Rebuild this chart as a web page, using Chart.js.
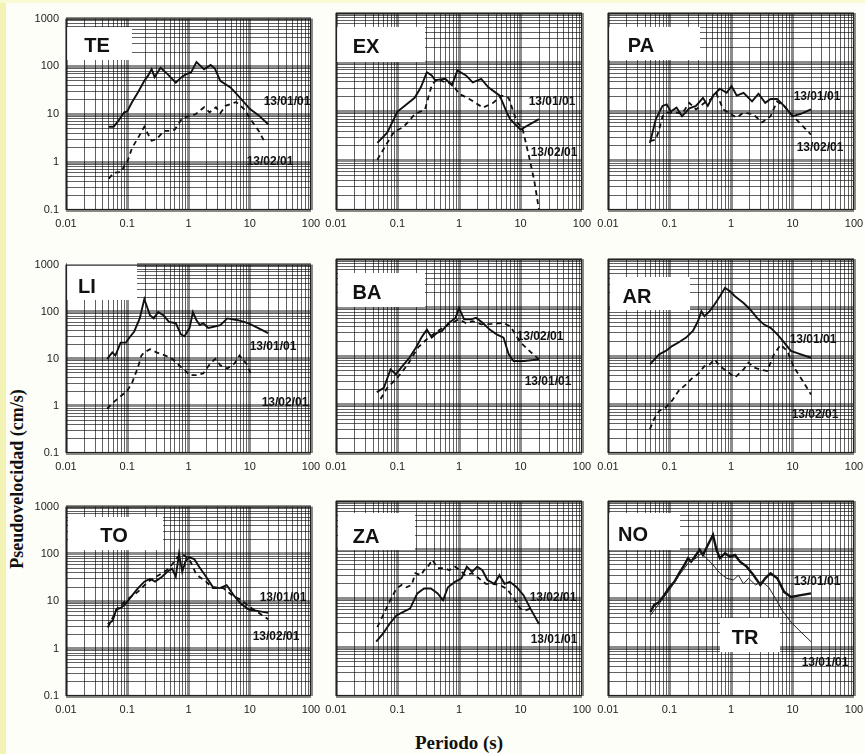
<!DOCTYPE html>
<html>
<head>
<meta charset="utf-8">
<script src="https://cdn.jsdelivr.net/npm/chart.js@4.4.0/dist/chart.umd.min.js"></script>
<style>
  html, body { margin: 0; padding: 0; }
  body { width: 865px; height: 754px; position: relative; overflow: hidden; background: #fefef9; font-family: "Liberation Sans", Arial, sans-serif; }
  canvas { position: absolute; }
  .edge-l { position: absolute; left: 0; top: 0; width: 6px; height: 754px; background: #f3f3b6; }
  .edge-t { position: absolute; left: 0; top: 0; width: 865px; height: 3px; background: #fafad6; }
  .ytitle { position: absolute; left: 17px; top: 479px; transform: translate(-50%, -50%) rotate(-90deg); font: bold 18px "Liberation Serif", "Times New Roman", serif; white-space: nowrap; color: #111; }
  .xtitle { position: absolute; left: 459px; top: 743px; transform: translate(-50%, -50%); font: bold 19px "Liberation Serif", "Times New Roman", serif; white-space: nowrap; color: #111; }
</style>
</head>
<body>
<div class="edge-l"></div>
<div class="edge-t"></div>
<div class="ytitle">Pseudovelocidad (cm/s)</div>
<div class="xtitle">Periodo (s)</div>
<script>
// ---- Pseudo-velocity spectra (period in s, PSV in cm/s) ----
// 13/01/01 event = Jan, 13/02/01 event = Feb

const teJanT = [0.05, 0.06, 0.07, 0.089, 0.1, 0.12, 0.15, 0.19, 0.22, 0.25, 0.28, 0.35, 0.45, 0.62, 0.75, 0.9, 1.1, 1.35, 1.8, 2.3, 2.7, 3.3, 4.9, 7.2, 10, 14, 20];
const teJanV = [5.5, 5.5, 7, 11, 11.5, 18, 29, 50, 65, 88, 60, 94, 70, 46, 58, 68, 75, 123, 87, 107, 90, 50, 36, 21, 13, 9.5, 6.2];
const teFebT = [0.05, 0.06, 0.08, 0.09, 0.1, 0.12, 0.15, 0.19, 0.22, 0.25, 0.3, 0.4, 0.5, 0.6, 0.8, 1, 1.3, 1.8, 2.2, 2.8, 3.3, 4, 6, 8, 11, 14, 18];
const teFebV = [0.45, 0.6, 0.62, 0.85, 1.0, 2.0, 3.2, 5.5, 3.8, 2.8, 3.0, 4.5, 4.5, 4.8, 8.5, 9, 10, 14, 11, 14, 10.5, 15, 18, 13, 7, 4.5, 2.5];

const exJanT = [0.047, 0.068, 0.1, 0.13, 0.19, 0.24, 0.3, 0.36, 0.41, 0.5, 0.6, 0.77, 0.94, 1.3, 1.67, 2.3, 3, 4.6, 6, 6.8, 10, 20];
const exJanV = [2.3, 3.7, 10, 13, 19, 31, 63, 54, 43, 45, 46, 34, 68, 54, 39, 46, 31, 21, 9.5, 7, 4.3, 7];
const exFebT = [0.047, 0.068, 0.088, 0.12, 0.147, 0.19, 0.28, 0.36, 0.44, 0.6, 0.77, 1, 1.47, 2.45, 3.6, 4.9, 6.4, 8.8, 10.7, 13.8, 16.7, 20];
const exFebV = [1.05, 2.3, 3.9, 4.7, 6, 8.8, 11, 34, 46, 39, 37, 23, 18, 12, 15, 21, 19, 6, 4.7, 1.2, 0.4, 0.1];

const paJanT = [0.048, 0.06, 0.077, 0.09, 0.105, 0.13, 0.16, 0.21, 0.27, 0.35, 0.42, 0.51, 0.66, 0.85, 1.02, 1.24, 1.6, 2.2, 2.8, 3.6, 4.4, 5.6, 7.3, 10, 13.7, 20];
const paJanV = [2.3, 7, 13, 14, 10, 12, 8, 11.6, 13, 19, 13, 21, 29, 24, 33, 21, 24, 16, 23, 15, 18, 18, 13, 8, 9, 11];
const paFebT = [0.048, 0.06, 0.068, 0.077, 0.093, 0.13, 0.16, 0.21, 0.27, 0.37, 0.48, 0.58, 0.75, 1, 1.24, 1.6, 2.3, 3.2, 4.4, 5.6, 7.3, 9.4, 13.7, 20];
const paFebV = [2.5, 2.7, 4.3, 8, 9.5, 9.5, 9, 15, 11, 15, 18, 23, 11, 8.8, 7.5, 9.5, 8.8, 6, 8, 16, 13, 9, 5.5, 3.4];

const liJanT = [0.047, 0.057, 0.064, 0.078, 0.095, 0.108, 0.13, 0.16, 0.19, 0.235, 0.27, 0.32, 0.39, 0.48, 0.62, 0.75, 0.86, 1.04, 1.18, 1.35, 1.53, 1.74, 2.1, 2.57, 3.3, 4.3, 6.4, 9.4, 13.8, 20];
const liJanV = [10, 13.7, 11.7, 22, 22, 28, 38, 72, 185, 84, 72, 98, 84, 61, 57, 33, 30, 45, 98, 66, 52, 57, 45, 48, 52, 72, 66, 57, 45, 35];
const liFebT = [0.047, 0.06, 0.078, 0.1, 0.12, 0.15, 0.17, 0.19, 0.235, 0.3, 0.42, 0.54, 0.7, 0.86, 1.04, 1.35, 1.74, 2.26, 2.74, 3.3, 4.3, 5.6, 6.8, 8.8, 10.7];
const liFebV = [0.87, 1.2, 1.6, 2.1, 3.1, 6.7, 11.7, 13.7, 16, 13.7, 11.7, 10, 7.3, 5.8, 4.5, 4.5, 4.9, 7.9, 10, 7.3, 6.2, 7.9, 11.7, 7.9, 4.5];

const baJanT = [0.046, 0.06, 0.077, 0.094, 0.12, 0.156, 0.2, 0.245, 0.3, 0.36, 0.44, 0.53, 0.68, 0.88, 1, 1.21, 1.56, 1.9, 2.45, 3.16, 4.1, 5.3, 6.4, 7.7, 11.3, 20];
const baJanV = [1.8, 2.2, 5.3, 4.2, 6.2, 9.2, 15, 24, 35, 24, 30, 33, 48, 61, 98, 57, 57, 61, 48, 35, 28, 24, 11, 7.9, 7.9, 8.5];
const baFebT = [0.053, 0.068, 0.1, 0.147, 0.216, 0.32, 0.46, 0.68, 1, 1.29, 1.67, 2.3, 3.4, 5.3, 6.8, 10, 14.7, 20];
const baFebV = [1.3, 2.2, 3.6, 6.7, 15, 24, 33, 45, 57, 48, 52, 45, 46, 48, 41, 19, 12, 8.5];

const arJanT = [0.048, 0.068, 0.087, 0.11, 0.14, 0.186, 0.24, 0.29, 0.33, 0.37, 0.45, 0.54, 0.66, 0.8, 0.96, 1.16, 1.6, 2.05, 2.65, 3.4, 4.4, 5.66, 7.3, 9.4, 13.7, 20];
const arJanV = [6.7, 10.8, 12.7, 16, 19, 24, 33, 52, 84, 66, 84, 115, 171, 255, 216, 171, 124, 91, 61, 45, 38, 28, 19, 12.7, 10.8, 9.2];
const arFebT = [0.048, 0.056, 0.068, 0.087, 0.11, 0.14, 0.186, 0.24, 0.29, 0.37, 0.45, 0.54, 0.66, 0.85, 1.16, 1.6, 1.93, 2.33, 3, 3.87, 5, 6.4, 8.2, 10.6, 14.6, 20];
const arFebV = [0.31, 0.5, 0.74, 0.87, 1.2, 1.9, 2.6, 3.6, 4.2, 6.2, 6.7, 8.5, 6.2, 4.9, 3.6, 5.3, 7.3, 5.8, 5.3, 4.9, 10.8, 17, 12.7, 5.8, 3.1, 1.6];

const toJanT = [0.048, 0.058, 0.066, 0.08, 0.096, 0.117, 0.15, 0.19, 0.236, 0.285, 0.37, 0.45, 0.54, 0.62, 0.7, 0.79, 0.9, 1.03, 1.24, 1.5, 1.94, 2.5, 3.24, 4.2, 5.4, 7, 9.6, 14, 20];
const toJanV = [3.3, 3.9, 6.7, 7.3, 9.2, 12.7, 19, 26, 30, 26, 33, 42, 49, 33, 100, 42, 72, 85, 78, 53, 33, 20, 19, 22, 13.7, 9.2, 6.7, 6.2, 5.7];
const toFebT = [0.048, 0.07, 0.1, 0.15, 0.22, 0.32, 0.48, 0.66, 0.79, 1.03, 1.33, 1.5, 1.94, 2.5, 3.7, 5.4, 7, 9.6, 14, 20];
const toFebV = [2.8, 7.3, 11, 16, 26, 35, 49, 85, 100, 78, 38, 33, 26, 19, 19, 12.7, 11, 7.9, 5.7, 4.2];

const zaJanT = [0.045, 0.058, 0.074, 0.096, 0.124, 0.16, 0.21, 0.27, 0.35, 0.45, 0.55, 0.66, 0.86, 1.1, 1.34, 1.63, 1.98, 2.4, 2.9, 3.76, 4.56, 5.5, 6.7, 8.7, 11.2, 14.5, 20];
const zaJanV = [1.3, 1.9, 3, 4.5, 5.3, 6.2, 12.7, 16, 16, 12.7, 9.2, 17, 22, 26, 45, 35, 45, 38, 24, 20, 30, 20, 22, 17, 11.7, 6.2, 3];
const zaFebT = [0.047, 0.058, 0.074, 0.096, 0.117, 0.14, 0.17, 0.195, 0.24, 0.27, 0.3, 0.37, 0.45, 0.58, 0.7, 0.86, 1.04, 1.26, 1.63, 2.1, 2.73, 3.5, 4.56, 5.9, 7.6, 9.9, 12, 14.5];
const zaFebV = [2.6, 4.5, 8.5, 16, 19, 17, 19, 33, 30, 38, 42, 62, 42, 42, 38, 45, 38, 30, 33, 26, 20, 20, 19, 16, 10.8, 6.2, 5.7, 6.2];

const noJanT = [0.049, 0.056, 0.068, 0.082, 0.1, 0.12, 0.144, 0.175, 0.2, 0.225, 0.27, 0.31, 0.35, 0.42, 0.51, 0.58, 0.66, 0.8, 0.96, 1.16, 1.4, 1.8, 2.33, 3, 3.6, 4.4, 5.66, 7.3, 9.4, 13.7, 20];
const noJanV = [5.3, 7.3, 8.5, 11.7, 17, 22, 33, 49, 67, 57, 78, 100, 78, 125, 202, 100, 67, 85, 72, 78, 57, 45, 30, 19, 26, 33, 26, 13.7, 10.8, 11.7, 12.7];
const trJanT = [0.049, 0.068, 0.1, 0.144, 0.21, 0.27, 0.33, 0.4, 0.51, 0.66, 0.85, 1.09, 1.32, 1.6, 1.93, 2.5, 3.2, 4.1, 5.3, 6.8, 9.4, 13.7, 20];
const trJanV = [4.5, 7.9, 15, 30, 57, 67, 85, 67, 49, 33, 26, 24, 30, 20, 26, 19, 22, 17, 10, 5.7, 3.3, 2.05, 1.3];

// Axis ranges and grid ticks (1..9 per decade)
const xRange = [0.01, 100];
const yRange = [0.1, 1000];
function decadeTicks(lo, hi) {
  const out = [];
  for (let e = Math.round(Math.log10(lo)); e < Math.round(Math.log10(hi)); e++) {
    for (let m = 1; m <= 9; m++) out.push(Number((m * Math.pow(10, e)).toPrecision(3)));
  }
  out.push(hi);
  return out;
}
const xTickVals = decadeTicks(xRange[0], xRange[1]);
const yTickVals = decadeTicks(yRange[0], yRange[1]);

// ---- layout (page pixels) ----
const colX = [[66, 311], [336, 582], [608, 854]];
const rowY = [[13, 210], [259, 453], [501, 696]];
const PAD_L = 4, Y_W = 50, PAD_T = 8, PAD_R = 24, X_H = 26;

const panels = [
  { name: 'TE', col: 0, row: 0, jan: [teJanT, teJanV], feb: [teFebT, teFebV], box: [67, 27, 65, 33], nameAt: [97, 45],
    dates: [['13/01/01', 287, 102], ['13/02/01', 270, 162]] },
  { name: 'EX', col: 1, row: 0, jan: [exJanT, exJanV], feb: [exFebT, exFebV], box: [337, 27, 88, 35], nameAt: [366, 46],
    dates: [['13/01/01', 552, 102], ['13/02/01', 554, 153]] },
  { name: 'PA', col: 2, row: 0, jan: [paJanT, paJanV], feb: [paFebT, paFebV], box: [608, 27, 92, 33], nameAt: [641, 45],
    dates: [['13/01/01', 817, 97], ['13/02/01', 820, 148]] },
  { name: 'LI', col: 0, row: 1, jan: [liJanT, liJanV], feb: [liFebT, liFebV], box: [67, 263, 70, 37], nameAt: [87, 286],
    dates: [['13/01/01', 273, 347], ['13/02/01', 285, 403]] },
  { name: 'BA', col: 1, row: 1, jan: [baJanT, baJanV], feb: [baFebT, baFebV], box: [338, 273, 87, 34], nameAt: [367, 292],
    dates: [['13/02/01', 540, 337], ['13/01/01', 548, 382]] },
  { name: 'AR', col: 2, row: 1, jan: [arJanT, arJanV], feb: [arFebT, arFebV], box: [610, 277, 80, 33], nameAt: [637, 296],
    dates: [['13/01/01', 813, 340], ['13/02/01', 815, 415]] },
  { name: 'TO', col: 0, row: 2, jan: [toJanT, toJanV], feb: [toFebT, toFebV], box: [68, 517, 95, 33], nameAt: [114, 535],
    dates: [['13/01/01', 283, 598], ['13/02/01', 276, 637]] },
  { name: 'ZA', col: 1, row: 2, jan: [zaJanT, zaJanV], feb: [zaFebT, zaFebV], box: [338, 513, 77, 37], nameAt: [366, 536],
    dates: [['13/02/01', 553, 598], ['13/01/01', 554, 640]] },
  { name: 'NO', col: 2, row: 2, jan: [noJanT, noJanV], tr: [trJanT, trJanV], box: [608, 513, 72, 37], nameAt: [633, 534],
    box2: [720, 618, 60, 34], name2: 'TR', name2At: [745, 637],
    dates: [['13/01/01', 817, 582], ['13/01/01', 825, 663]] }
];

function isDecade(v) {
  const l = Math.log10(v);
  return Math.abs(l - Math.round(l)) < 1e-6;
}
function pts(T, V) { return T.map((t, i) => ({ x: t, y: V[i] })); }

// Panel decorations: white plot background, name boxes, date labels and frame
const panelDecor = {
  id: 'panelDecor',
  beforeDraw(chart, args, opts) {
    const a = chart.chartArea, c = chart.ctx;
    c.save(); c.fillStyle = '#ffffff'; c.fillRect(a.left, a.top, a.right - a.left, a.bottom - a.top); c.restore();
  },
  beforeDatasetsDraw(chart, args, opts) {
    const c = chart.ctx, ox = opts.ox, oy = opts.oy;
    c.save();
    const boxes = [[opts.box, opts.name, opts.nameAt]];
    if (opts.box2) boxes.push([opts.box2, opts.name2, opts.name2At]);
    boxes.forEach(([b, txt, at]) => {
      c.fillStyle = '#ffffff';
      c.fillRect(b[0] - ox, b[1] - oy, b[2], b[3]);
      c.fillStyle = '#111';
      c.font = 'bold 20px "Liberation Sans", Arial, sans-serif';
      c.textAlign = 'center'; c.textBaseline = 'middle';
      c.fillText(txt, at[0] - ox, at[1] - oy + 1);
    });
    c.restore();
  },
  afterDatasetsDraw(chart, args, opts) {
    const c = chart.ctx, ox = opts.ox, oy = opts.oy, a = chart.chartArea;
    c.save();
    c.fillStyle = '#111';
    c.font = 'bold 12px "Liberation Sans", Arial, sans-serif';
    c.textAlign = 'center'; c.textBaseline = 'middle';
    opts.dates.forEach(d => c.fillText(d[0], d[1] - ox, d[2] - oy));
    c.strokeStyle = '#222'; c.lineWidth = 1.2;
    c.strokeRect(a.left + 0.5, a.top + 0.5, a.right - a.left - 1, a.bottom - a.top - 1);
    c.restore();
  }
};

const fontTick = { family: '"Liberation Sans", Arial, sans-serif', size: 11 };
function gridOpts() {
  return {
    drawTicks: false,
    color: ctx => (ctx.tick && isDecade(ctx.tick.value)) ? 'rgba(0,0,0,0.45)' : 'rgba(0,0,0,0.62)',
    lineWidth: ctx => (ctx.tick && isDecade(ctx.tick.value)) ? 3 : 1
  };
}

panels.forEach(p => {
  const [pl, pr] = colX[p.col];
  const [pt, pb] = rowY[p.row];
  const left = pl - PAD_L - Y_W;
  const top = pt - PAD_T;
  const w = PAD_L + Y_W + (pr - pl) + PAD_R;
  const h = PAD_T + (pb - pt) + X_H;
  const cv = document.createElement('canvas');
  cv.width = w; cv.height = h;
  cv.style.left = left + 'px'; cv.style.top = top + 'px';
  cv.style.width = w + 'px'; cv.style.height = h + 'px';
  document.body.appendChild(cv);

  const datasets = [];
  if (p.feb) datasets.push({ label: '13/02/01', data: pts(p.feb[0], p.feb[1]), borderColor: '#111', borderWidth: 1.8, borderDash: [5, 4], pointRadius: 0, tension: 0, fill: false });
  if (p.tr) datasets.push({ label: 'TR 13/01/01', data: pts(p.tr[0], p.tr[1]), borderColor: '#222', borderWidth: 1, pointRadius: 0, tension: 0, fill: false });
  datasets.push({ label: '13/01/01', data: pts(p.jan[0], p.jan[1]), borderColor: '#111', borderWidth: p.tr ? 2.4 : 1.9, pointRadius: 0, tension: 0, fill: false });

  new Chart(cv, {
    type: 'line',
    data: { datasets },
    options: {
      responsive: false,
      animation: false,
      devicePixelRatio: 1,
      layout: { padding: { left: PAD_L, right: PAD_R, top: PAD_T, bottom: 0 } },
      plugins: {
        legend: { display: false },
        tooltip: { enabled: false },
        panelDecor: Object.assign({ ox: left, oy: top }, p)
      },
      scales: {
        x: {
          type: 'logarithmic', min: xRange[0], max: xRange[1],
          afterBuildTicks: s => { s.ticks = xTickVals.map(v => ({ value: v })); },
          afterFit: s => { s.height = X_H; },
          grid: gridOpts(),
          border: { display: false },
          ticks: { autoSkip: false, maxRotation: 0, minRotation: 0, padding: 7, color: '#222', font: fontTick,
                   callback: v => isDecade(v) ? String(v) : '' }
        },
        y: {
          type: 'logarithmic', min: yRange[0], max: yRange[1],
          afterBuildTicks: s => { s.ticks = yTickVals.map(v => ({ value: v })); },
          afterFit: s => { s.width = Y_W; },
          grid: gridOpts(),
          border: { display: false },
          ticks: { display: p.col === 0, autoSkip: false, padding: 7, color: '#222', font: fontTick,
                   callback: v => isDecade(v) ? String(v) : '' }
        }
      }
    },
    plugins: [panelDecor]
  });
});
</script>
</body>
</html>
